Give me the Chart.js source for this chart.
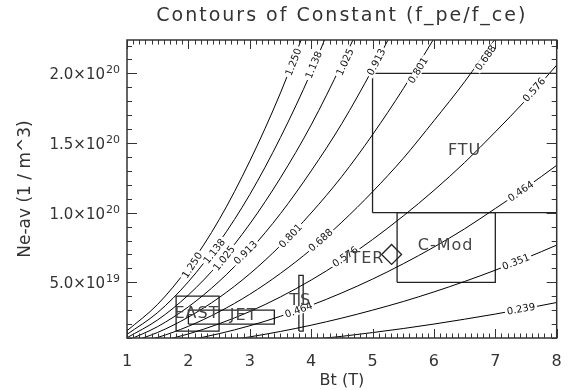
<!DOCTYPE html>
<html>
<head>
<meta charset="utf-8">
<script src="https://cdn.jsdelivr.net/npm/chart.js@4.4.0/dist/chart.umd.min.js"></script>
<style>
  body { margin: 0; background: #fff; }
  canvas { display: block; }
</style>
</head>
<body>
<canvas id="contours" width="568" height="390"></canvas>
<script>
// toroidal field grid (T)
var bt = [1, 1.5, 2, 2.5, 3, 3.5, 4, 4.5, 5, 5.5, 6, 6.5, 7, 7.5, 8];

// density along each contour of f_pe/f_ce (1/m^3)
var ne1250 = [1.52e19, 3.42e19, 6.08e19, 9.49e19, 1.37e20, 1.86e20, 2.43e20, null, null, null, null, null, null, null, null];
var ne1138 = [1.26e19, 2.83e19, 5.04e19, 7.87e19, 1.13e20, 1.54e20, 2.01e20, 2.55e20, null, null, null, null, null, null, null];
var ne1025 = [1.02e19, 2.30e19, 4.09e19, 6.38e19, 9.19e19, 1.25e20, 1.63e20, 2.07e20, 2.55e20, null, null, null, null, null, null];
var ne0913 = [8.1e18, 1.82e19, 3.24e19, 5.06e19, 7.29e19, 9.93e19, 1.30e20, 1.64e20, 2.03e20, 2.45e20, null, null, null, null, null];
var ne0801 = [6.2e18, 1.40e19, 2.50e19, 3.90e19, 5.61e19, 7.64e19, 9.98e19, 1.26e20, 1.56e20, 1.89e20, 2.25e20, null, null, null, null];
var ne0688 = [4.6e18, 1.04e19, 1.84e19, 2.88e19, 4.14e19, 5.64e19, 7.36e19, 9.32e19, 1.15e20, 1.39e20, 1.66e20, 1.94e20, 2.25e20, null, null];
var ne0576 = [null, 7.3e18, 1.29e19, 2.02e19, 2.90e19, 3.95e19, 5.16e19, 6.53e19, 8.07e19, 9.76e19, 1.16e20, 1.36e20, 1.58e20, 1.81e20, 2.06e20];
var ne0464 = [null, null, 8.4e18, 1.31e19, 1.88e19, 2.56e19, 3.35e19, 4.24e19, 5.23e19, 6.33e19, 7.53e19, 8.84e19, 1.03e20, 1.18e20, 1.34e20];
var ne0351 = [null, null, null, 7.5e18, 1.08e19, 1.47e19, 1.92e19, 2.43e19, 3.00e19, 3.62e19, 4.31e19, 5.06e19, 5.87e19, 6.74e19, 7.67e19];
var ne0239 = [null, null, null, null, null, null, 8.9e18, 1.12e19, 1.39e19, 1.68e19, 2.00e19, 2.35e19, 2.72e19, 3.12e19, 3.55e19];

var levels = ['1.250', '1.138', '1.025', '0.913', '0.801', '0.688', '0.576', '0.464', '0.351', '0.239'];
var contours = [ne1250, ne1138, ne1025, ne0913, ne0801, ne0688, ne0576, ne0464, ne0351, ne0239];

// where the level numbers sit on each line
var levelLabelBt = [[2.07, 3.72], [2.43, 4.05], [2.59, 4.56], [2.94, 5.07], [3.67, 5.75], [4.16, 6.85], [4.56, 7.64], [3.80, 7.42], [7.34], [7.42]];
var levelLabelNe = [[6.2e19, 2.08e20], [7.2e19, 2.06e20], [6.7e19, 2.08e20], [7.1e19, 2.08e20], [8.3e19, 2.02e20], [8.0e19, 2.11e20], [6.8e19, 1.88e20], [2.97e19, 1.15e20], [6.43e19], [3.04e19]];

// machine operating regions
var machines = ['FTU', 'C-Mod', 'EAST', 'JET', 'TS'];
var machBtMin = [5.0, 5.4, 1.8, 2.0, 3.8];
var machBtMax = [8.0, 7.0, 2.5, 3.4, 3.87];
var machNeMin = [1.0e20, 5.0e19, 1.5e19, 2.0e19, 1.5e19];
var machNeMax = [2.0e20, 1.0e20, 4.0e19, 3.0e19, 5.5e19];
var machLabelBt = [6.5, 6.19, 2.14, 2.9, 3.82];
var machLabelNe = [1.445e20, 7.6e19, 2.7e19, 2.56e19, 3.66e19];

var iterBt = [5.31];
var iterNe = [7.0e19];
var iterLabelBt = 4.87;
var iterLabelNe = 6.66e19;

var xTicks = [1, 2, 3, 4, 5, 6, 7, 8];
var yTicks = [5e19, 1e20, 1.5e20, 2e20];

var FONT = '"DejaVu Sans", sans-serif';
var INK = '#333';

var datasets = [];
contours.forEach(function(ne, i) {
  var pts = [];
  bt.forEach(function(b, j) {
    if (ne[j] !== null) pts.push({x: b, y: ne[j]});
  });
  datasets.push({
    label: levels[i],
    data: pts,
    showLine: true,
    borderColor: '#000',
    borderWidth: 1,
    pointRadius: 0,
    cubicInterpolationMode: 'monotone'
  });
});
machines.forEach(function(m, i) {
  var x0 = machBtMin[i], x1 = machBtMax[i], y0 = machNeMin[i], y1 = machNeMax[i];
  datasets.push({
    label: m,
    data: [{x: x0, y: y0}, {x: x1, y: y0}, {x: x1, y: y1}, {x: x0, y: y1}, {x: x0, y: y0}],
    showLine: true,
    borderColor: '#222',
    borderWidth: 1.3,
    pointRadius: 0,
    tension: 0
  });
});
datasets.push({
  label: 'ITER',
  data: iterBt.map(function(b, i) { return {x: b, y: iterNe[i]}; }),
  showLine: false,
  pointStyle: 'rectRot',
  pointRadius: 10,
  borderColor: '#222',
  borderWidth: 1.3,
  backgroundColor: 'rgba(0,0,0,0)'
});

function drawTicks(ctx, area, xs, ys) {
  ctx.strokeStyle = INK;
  ctx.lineWidth = 1;
  ctx.beginPath();
  for (var v = 1; v <= 8.001; v += 0.1) {
    var px = Math.round(xs.getPixelForValue(v)) + 0.5;
    var major = Math.abs(v - Math.round(v)) < 1e-6;
    var len = major ? 9 : 4.5;
    ctx.moveTo(px, area.bottom); ctx.lineTo(px, area.bottom - len);
    ctx.moveTo(px, area.top); ctx.lineTo(px, area.top + len);
  }
  for (var k = 1; k <= 22; k++) {
    var py = Math.round(ys.getPixelForValue(k * 1e19)) + 0.5;
    var len2 = (k % 5 === 0) ? 10 : 5;
    ctx.moveTo(area.left, py); ctx.lineTo(area.left + len2, py);
    ctx.moveTo(area.right, py); ctx.lineTo(area.right - len2, py);
  }
  ctx.stroke();
}

var decorations = {
  id: 'decorations',
  afterDatasetsDraw: function(chart) {
    var ctx = chart.ctx, xs = chart.scales.x, ys = chart.scales.y;
    ctx.save();
    ctx.font = '10px ' + FONT;
    ctx.textAlign = 'center';
    ctx.textBaseline = 'middle';
    levels.forEach(function(lev, i) {
      var pts = chart.data.datasets[i].data;
      levelLabelBt[i].forEach(function(b, j) {
        var px = xs.getPixelForValue(b), py = ys.getPixelForValue(levelLabelNe[i][j]);
        var k = 0;
        while (k < pts.length - 2 && pts[k + 1].x < b) k++;
        var ang = Math.atan2(
          ys.getPixelForValue(pts[k + 1].y) - ys.getPixelForValue(pts[k].y),
          xs.getPixelForValue(pts[k + 1].x) - xs.getPixelForValue(pts[k].x));
        var w = ctx.measureText(lev).width;
        ctx.save();
        ctx.translate(px, py);
        ctx.rotate(ang);
        ctx.fillStyle = '#fff';
        ctx.fillRect(-w / 2 - 2, -4, w + 4, 8);
        ctx.fillStyle = '#111';
        ctx.fillText(lev, 0, 0);
        ctx.restore();
      });
    });

    ctx.font = '16px ' + FONT;
    ctx.fillStyle = '#444';
    ctx.letterSpacing = '1px';
    machines.forEach(function(m, i) {
      ctx.fillText(m, xs.getPixelForValue(machLabelBt[i]), ys.getPixelForValue(machLabelNe[i]));
    });
    ctx.fillText('ITER', xs.getPixelForValue(iterLabelBt), ys.getPixelForValue(iterLabelNe));
    ctx.restore();
  },
  afterDraw: function(chart) {
    var ctx = chart.ctx, area = chart.chartArea, xs = chart.scales.x, ys = chart.scales.y;
    ctx.save();
    drawTicks(ctx, area, xs, ys);
    ctx.strokeStyle = INK;
    ctx.lineWidth = 1.5;
    ctx.strokeRect(area.left, area.top, area.right - area.left, area.bottom - area.top);

    // y tick labels with a real superscript exponent
    ctx.fillStyle = INK;
    ctx.textBaseline = 'alphabetic';
    ys.ticks.forEach(function(t) {
      var v = t.value;
      var exp = Math.floor(Math.log10(v) + 1e-9);
      var mant = (v / Math.pow(10, exp)).toFixed(1) + '\u00d710';
      var py = ys.getPixelForValue(v);
      var right = area.left - 7;
      ctx.font = '11px ' + FONT;
      ctx.textAlign = 'right';
      var ew = ctx.measureText(String(exp)).width;
      ctx.fillText(String(exp), right, py);
      ctx.font = '15px ' + FONT;
      ctx.fillText(mant, right - ew - 1, py + 6);
    });

    ctx.font = '19px ' + FONT;
    ctx.letterSpacing = '2px';
    ctx.textAlign = 'center';
    ctx.textBaseline = 'middle';
    ctx.fillText('Contours of Constant (f_pe/f_ce)', (area.left + area.right) / 2, 16);
    ctx.restore();
  }
};

new Chart(document.getElementById('contours'), {
  type: 'scatter',
  data: { datasets: datasets },
  options: {
    responsive: false,
    animation: false,
    devicePixelRatio: 1,
    layout: { padding: { left: 0, right: 9, top: 40, bottom: 0 } },
    plugins: { legend: { display: false }, tooltip: { enabled: false } },
    scales: {
      x: {
        type: 'linear',
        min: 1, max: 8,
        grid: { display: false, drawTicks: false },
        border: { display: false },
        afterBuildTicks: function(s) { s.ticks = xTicks.map(function(v) { return {value: v}; }); },
        afterFit: function(s) { s.height = 52; s.paddingLeft = 0; s.paddingRight = 0; },
        ticks: { color: INK, font: { family: FONT, size: 16 }, padding: 14, maxRotation: 0 },
        title: { display: true, text: 'Bt (T)', color: INK, font: { family: FONT, size: 16 }, padding: { top: 0, bottom: 0 } }
      },
      y: {
        type: 'linear',
        min: 1e19, max: 2.24e20,
        grid: { display: false, drawTicks: false },
        border: { display: false },
        afterBuildTicks: function(s) { s.ticks = yTicks.map(function(v) { return {value: v}; }); },
        afterFit: function(s) { s.width = 127; s.paddingTop = 0; s.paddingBottom = 0; },
        ticks: { display: false },
        title: { display: true, text: 'Ne-av (1 / m^3)', color: INK, font: { family: FONT, size: 17 }, padding: { top: 15, bottom: 0 } }
      }
    }
  },
  plugins: [decorations]
});
</script>
</body>
</html>
